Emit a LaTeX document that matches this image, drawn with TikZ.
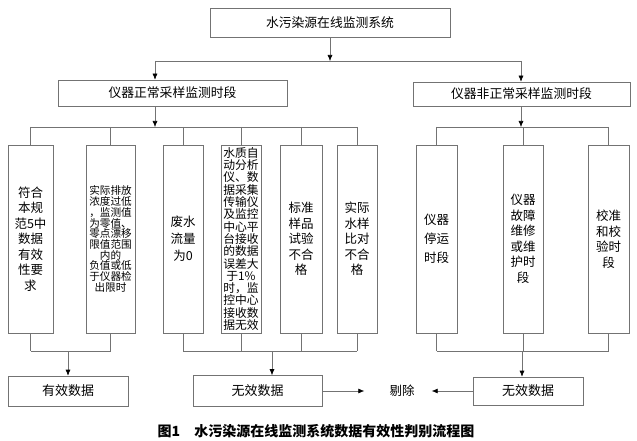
\documentclass[tikz,border=0pt]{standalone}
\usepackage{fontspec}
\setmainfont{Noto Sans CJK SC}
\usetikzlibrary{arrows.meta}
\tikzset{
  box/.style={draw=black!55, line width=0.6pt, inner sep=1pt, align=center},
  tallbox/.style={box, minimum height=188, font=\fontsize{12.5}{15.5}\selectfont},
  wirebox/.style={line width=0.6pt, draw=black!55},
  arr/.style={wirebox, -{Latex[length=6pt,width=5pt,black]}},
}
\begin{document}
\begin{tikzpicture}[x=1pt, y=-1pt]
        \useasboundingbox (0,0) rectangle (637,441);
        % Top level
        \node[box, minimum width=240, minimum height=29, font=\fontsize{12.8}{14}\selectfont] (sys) at (330,22.5) {水污染源在线监测系统};
        \node[box, minimum width=229, minimum height=26, font=\fontsize{12.8}{14}\selectfont] (normal) at (172.5,93) {仪器正常采样监测时段};
        \node[box, minimum width=217, minimum height=24, font=\fontsize{12.8}{14}\selectfont] (abnormal) at (521.5,94) {仪器非正常采样监测时段};
        % Tall boxes, normal period
        \node[tallbox, minimum width=45] (b1) at (30.5,239) {符合\\本规\\范5中\\数据\\有效\\性要\\求};
        \node[tallbox, minimum width=49, font=\fontsize{10.6}{10.7}\selectfont] (b2) at (110.5,239) {实际排放\\浓度过低\\，监测值\\为零值、\\零点漂移\\限值范围\\内的\\负值或低\\于仪器检\\出限时};
        \node[tallbox, minimum width=40, font=\fontsize{12.5}{17}\selectfont] (b3) at (183,239) {废水\\流量\\为0};
        \node[tallbox, minimum width=40, inner sep=0.5pt, font=\fontsize{11.8}{12.3}\selectfont] (b4) at (241,239) {水质自\\动分析\\仪、数\\据采集\\传输仪\\及监控\\中心平\\台接收\\的数据\\误差大\\于1\%\\时，监\\控中心\\接收数\\据无效};
        \node[tallbox, minimum width=42] (b5) at (301,239) {标准\\样品\\试验\\不合\\格};
        \node[tallbox, minimum width=40] (b6) at (357,239) {实际\\水样\\比对\\不合\\格};
        % Tall boxes, abnormal period
        \node[tallbox, minimum width=41, font=\fontsize{12.5}{19}\selectfont] (b7) at (436.5,239) {仪器\\停运\\时段};
        \node[tallbox, minimum width=40] (b8) at (523,239) {仪器\\故障\\维修\\或维\\护时\\段};
        \node[tallbox, minimum width=41] (b9) at (608.5,239) {校准\\和校\\验时\\段};
        % Results
        \node[box, minimum width=120, minimum height=30, font=\fontsize{13}{14}\selectfont] (valid) at (68,391) {有效数据};
        \node[box, minimum width=129, minimum height=31, font=\fontsize{13}{14}\selectfont] (invalidA) at (257.5,391) {无效数据};
        \node[box, minimum width=110, minimum height=28, font=\fontsize{13}{14}\selectfont] (invalidB) at (528,391) {无效数据};
        \node[inner sep=0pt, font=\fontsize{12.5}{14}\selectfont] (del) at (402,391) {剔除};
        % Junctions
        \coordinate (split) at (330,61);
        \coordinate (nl) at (155,61);
        \coordinate (nr) at (521,61);
        \coordinate (gl) at (155,127);
        \coordinate (gr) at (521,127);
        \coordinate (ja) at (68,351);
        \coordinate (jb) at (272,351);
        \coordinate (jc) at (522,351);
        % Top branches
        \draw[arr] (sys) -- (split);
        \draw[wirebox] (nl) -- (nr);
        \draw[arr] (nl) -- (nl |- normal.north);
        \draw[arr] (nr) -- (nr |- abnormal.north);
        \draw[arr] (gl |- normal.south) -- (gl);
        \draw[arr] (gr |- abnormal.south) -- (gr);
        % Fan out to the tall boxes
        \draw[wirebox] (b1.north |- gl) -- (b6.north |- gl);
        \draw[wirebox] (b7.north |- gr) -- (b9.north |- gr);
        \foreach \b in {b1,b2,b3,b4,b5,b6} {
          \draw[wirebox] (\b.north |- gl) -- (\b.north);
        }
        \foreach \b in {b7,b8,b9} {
          \draw[wirebox] (\b.north |- gr) -- (\b.north);
        }
        % Collect into results
        \draw[wirebox] (b1.south |- ja) -- (b2.south |- ja);
        \draw[wirebox] (b3.south |- jb) -- (b6.south |- jb);
        \draw[wirebox] (b7.south |- jc) -- (b9.south |- jc);
        \foreach \b/\j in {b1/ja,b2/ja,b3/jb,b4/jb,b5/jb,b6/jb,b7/jc,b8/jc,b9/jc} {
          \draw[wirebox] (\b.south) -- (\b.south |- \j);
        }
        \draw[arr] (ja) -- (ja |- valid.north);
        \draw[arr] (jb) -- (jb |- invalidA.north);
        \draw[arr] (jc) -- (jc |- invalidB.north);
        % Discard
        \draw[arr] (invalidA) -- ([xshift=-25pt]del.west);
        \draw[arr] (invalidB) -- ([xshift=17pt]del.east);
        % Caption
        \node[font=\fontsize{14}{16}\selectfont\bfseries] (cap) at (316,431) {图1\hspace{14pt}水污染源在线监测系统数据有效性判别流程图};
      \end{tikzpicture}
\end{document}
